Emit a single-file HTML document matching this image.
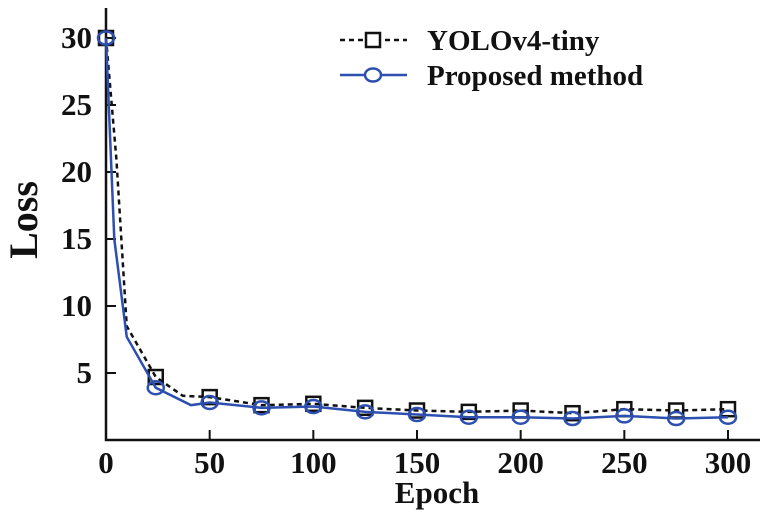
<!DOCTYPE html>
<html><head><meta charset="utf-8"><style>
body{margin:0;background:#fff;}
svg text{font-family:"Liberation Serif",serif;font-weight:bold;fill:#111;}
</style></head><body>
<svg id="chart" width="777" height="513" viewBox="0 0 777 513" xmlns="http://www.w3.org/2000/svg"></svg>
<script>
const xTicks=[0,50,100,150,200,250,300];
const yTicks=[5,10,15,20,25,30];
const yoloEpochs=[0,5,10,24,37,50,75,100,125,150,175,200,225,250,275,300];
const yoloLoss=[30,21,8.5,4.7,3.3,3.2,2.6,2.7,2.4,2.2,2.1,2.2,2.0,2.3,2.2,2.3];
const yoloMarkerEpochs=[0,24,50,75,100,125,150,175,200,225,250,275,300];
const yoloMarkerLoss=[30,4.7,3.2,2.6,2.7,2.4,2.2,2.1,2.2,2.0,2.3,2.2,2.3];
const propEpochs=[0,4,10,24,41,50,75,100,125,150,175,200,225,250,275,300];
const propLoss=[30,15,7.7,3.9,2.6,2.8,2.4,2.5,2.1,1.9,1.7,1.7,1.6,1.8,1.6,1.7];
const propMarkerEpochs=[0,24,50,75,100,125,150,175,200,225,250,275,300];
const propMarkerLoss=[30,3.9,2.8,2.4,2.5,2.1,1.9,1.7,1.7,1.6,1.8,1.6,1.7];

const svg=document.getElementById('chart');
const NS='http://www.w3.org/2000/svg';
const x0=106,x1=728,yBase=440,yPer=13.4;
const X=v=>x0+v*(x1-x0)/300;
const Y=v=>yBase-v*yPer;
function mk(tag,attrs,parent){const e=document.createElementNS(NS,tag);for(const k in attrs)e.setAttribute(k,attrs[k]);(parent||svg).appendChild(e);return e;}

let g=mk('g',{});


let ax=mk('path',{d:`M${x0},8 V${yBase} H760`,fill:'none',stroke:'#111','stroke-width':2.5},g);


xTicks.forEach(v=>{
  const t=mk('line',{x1:X(v),x2:X(v),y1:yBase,y2:yBase-10,stroke:'#111','stroke-width':2},g);
  
  
  const l=mk('text',{x:X(v),y:473,'text-anchor':'middle','font-size':31},g);
  l.textContent=v;
  
  
});
yTicks.forEach(v=>{
  const t=mk('line',{x1:x0,x2:x0+10,y1:Y(v),y2:Y(v),stroke:'#111','stroke-width':2},g);
  
  
  const l=mk('text',{x:x0-14,y:Y(v)+10,'text-anchor':'end','font-size':31},g);
  l.textContent=v;
  
  
});
let xt=mk('text',{x:437,y:503,'text-anchor':'middle','font-size':31});
xt.textContent='Epoch';


let yt=mk('text',{x:0,y:0,'text-anchor':'middle','font-size':40,transform:'translate(37,220) rotate(-90)'});
yt.textContent='Loss';



const pts=(xs,ys)=>xs.map((v,i)=>X(v)+','+Y(ys[i])).join(' ');
let pl=mk('polyline',{points:pts(yoloEpochs,yoloLoss),fill:'none',stroke:'#111','stroke-width':2.5,'stroke-dasharray':'5,4'});


yoloMarkerEpochs.forEach((v,i)=>{
  const r=mk('rect',{x:X(v)-7,y:Y(yoloMarkerLoss[i])-7,width:14,height:14,fill:'none',stroke:'#111','stroke-width':2.5});
  
  
});
let pb=mk('polyline',{points:pts(propEpochs,propLoss),fill:'none',stroke:'#2c4fb0','stroke-width':2.5});


propMarkerEpochs.forEach((v,i)=>{
  const c=mk('ellipse',{cx:X(v),cy:Y(propMarkerLoss[i]),rx:8,ry:6.5,fill:'none',stroke:'#2c4fb0','stroke-width':2.5});
  
  
});

let lg=mk('g',{});


let l1=mk('line',{x1:340,x2:407,y1:40,y2:40,stroke:'#111','stroke-width':2.5,'stroke-dasharray':'5,4'},lg);


let r1=mk('rect',{x:366,y:33,width:14,height:14,fill:'#fff',stroke:'#111','stroke-width':2.5},lg);


let t1=mk('text',{x:427,y:50,'font-size':29},lg);
t1.textContent='YOLOv4-tiny';


let l2=mk('line',{x1:340,x2:407,y1:75,y2:75,stroke:'#2c4fb0','stroke-width':2.5},lg);


let c2=mk('ellipse',{cx:373,cy:75,rx:8,ry:6.5,fill:'#fff',stroke:'#2c4fb0','stroke-width':2.5},lg);


let t2=mk('text',{x:427,y:85,'font-size':29},lg);
t2.textContent='Proposed method';


</script>
</body></html>
